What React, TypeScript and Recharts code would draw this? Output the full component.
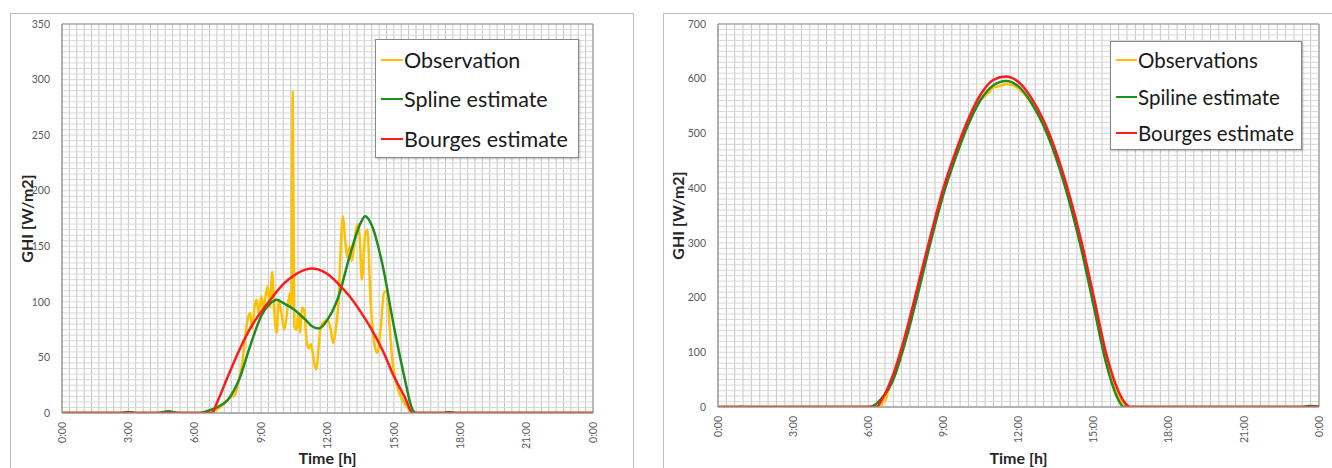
import React from 'react';
import { LineChart, Line, XAxis, YAxis, CartesianGrid, ReferenceArea } from 'recharts';

// time in hours, GHI in W/m2
const leftObservation = [
  [0, 0], [2.8, 0], [3.0, 1], [3.2, 0], [6.6, 0], [6.8, 2], [7.0, 3], [7.3, 8], [7.6, 14], [7.8, 16],
  [8.0, 30], [8.15, 45], [8.3, 72], [8.4, 85], [8.5, 90], [8.6, 76], [8.7, 95], [8.8, 102], [8.9, 88],
  [9.0, 105], [9.1, 95], [9.2, 105], [9.3, 114], [9.4, 95], [9.5, 127], [9.6, 90], [9.7, 72], [9.8, 100],
  [9.9, 92], [10.05, 75], [10.2, 95], [10.3, 108], [10.37, 95], [10.43, 289], [10.5, 78], [10.6, 75],
  [10.68, 90], [10.76, 72], [10.85, 95], [10.95, 92], [11.05, 66], [11.15, 58], [11.25, 62], [11.4, 45],
  [11.5, 39], [11.6, 60], [11.7, 78], [11.85, 82], [12.0, 84], [12.15, 75], [12.26, 63], [12.4, 80],
  [12.5, 100], [12.6, 150], [12.7, 177], [12.8, 155], [12.9, 140], [13.0, 150], [13.1, 137], [13.2, 150],
  [13.35, 170], [13.45, 160], [13.55, 120], [13.7, 160], [13.8, 165], [13.95, 100], [14.1, 65], [14.25, 54],
  [14.4, 75], [14.55, 108], [14.7, 110], [14.8, 80], [14.95, 45], [15.1, 28], [15.3, 15], [15.5, 8],
  [15.7, 3], [15.85, 0], [24, 0],
];
const leftSpline = [
  [0, 0], [2.6, 0], [3.0, 1], [3.4, 0], [4.3, 0], [4.8, 1.5], [5.3, 0], [6.2, 0], [6.6, 2], [7.0, 5],
  [7.5, 12], [8.0, 30], [8.5, 60], [9.0, 87], [9.5, 100], [9.7, 102], [10.0, 99], [10.5, 93], [11.0, 84],
  [11.3, 78], [11.6, 76], [12.0, 84], [12.5, 105], [13.0, 141], [13.5, 171], [13.7, 177], [14.0, 169],
  [14.5, 132], [15.0, 78], [15.5, 30], [15.8, 5], [16.0, 0], [17.2, 0], [17.5, 1], [17.8, 0], [24, 0],
];
const leftBourges = [
  [0, 0], [6.78, 0], [7.0, 9], [7.5, 33], [8.0, 56], [8.5, 76], [9.0, 91], [9.5, 104], [10.0, 116],
  [10.5, 124], [11.0, 129], [11.3, 130], [11.6, 129], [12.0, 125], [12.5, 116], [13.0, 105], [13.5, 91],
  [14.0, 75], [14.5, 56], [15.0, 33], [15.5, 14], [15.85, 0], [24, 0],
];

const rightObservation = [
  [0, 0], [0.8, 0], [0.9, 2], [1.0, 0], [6.5, 0], [6.58, 10], [6.68, 12], [6.8, 30], [7.0, 55], [7.5, 128],
  [8.0, 218], [8.5, 310], [9.0, 395], [9.5, 460], [10.0, 518], [10.5, 562], [10.8, 574], [11.0, 584],
  [11.2, 586], [11.5, 590], [11.8, 588], [12.0, 582], [12.5, 557], [13.0, 516], [13.5, 459],
  [14.0, 386], [14.5, 297], [15.0, 195], [15.5, 90], [16.0, 22], [16.35, 0], [24, 0],
];
const rightSpline = [
  [0, 0], [6.0, 0], [6.3, 5], [6.5, 14], [7.0, 50], [7.5, 122], [8.0, 210], [8.5, 303], [9.0, 388],
  [9.5, 457], [10.0, 517], [10.5, 562], [11.0, 588], [11.5, 596], [12.0, 586], [12.5, 557], [13.0, 514],
  [13.5, 455], [14.0, 380], [14.5, 290], [15.0, 185], [15.5, 80], [16.0, 12], [16.2, 0], [23.3, 0],
  [23.6, 2], [24, 1],
];
const rightBourges = [
  [0, 0], [6.34, 0], [6.5, 10], [7.0, 60], [7.5, 135], [8.0, 225], [8.5, 315], [9.0, 400], [9.5, 468],
  [10.0, 527], [10.5, 572], [11.0, 598], [11.5, 604], [12.0, 594], [12.5, 566], [13.0, 524], [13.5, 466],
  [14.0, 393], [14.5, 305], [15.0, 203], [15.5, 98], [16.0, 28], [16.3, 5], [16.45, 0], [24, 0],
];

const timeTicks = [0, 3, 6, 9, 12, 15, 18, 21, 24];
const timeLabels = ['0:00', '3:00', '6:00', '9:00', '12:00', '15:00', '18:00', '21:00', '0:00'];
const leftGhiTicks = [0, 50, 100, 150, 200, 250, 300, 350];
const rightGhiTicks = [0, 100, 200, 300, 400, 500, 600, 700];

const leftNames = ['Observation', 'Spline estimate', 'Bourges estimate'];
const rightNames = ['Observations', 'Spiline estimate', 'Bourges estimate'];
const colors = ['#FFC000', '#1E8C1E', '#FF1A1A'];

const FONT = "Lato, 'Open Sans', sans-serif";

const toPoints = (pairs: number[][]) => pairs.map(([h, v]) => ({ h, v }));

const steps = (max: number, step: number) => {
  const out: number[] = [];
  for (let i = 0; i * step <= max + 1e-9; i++) out.push(i * step);
  return out;
};

const TimeTick = (props: any) => {
  const { x, y, payload } = props;
  const idx = timeTicks.indexOf(payload.value);
  const ty = y + 1;
  return (
    <text
      x={x}
      y={ty}
      transform={`rotate(-90 ${x} ${ty})`}
      textAnchor="end"
      dy="0.35em"
      fill="#595959"
      fontSize={10.5}
      fontFamily={FONT}
    >
      {timeLabels[idx]}
    </text>
  );
};

type PanelProps = {
  left: number;
  width: number;
  yMax: number;
  yTicks: number[];
  yMinor: number;
  yAxisWidth: number;
  xAxisHeight: number;
  marginRight: number;
  series: number[][][];
  names: string[];
  yLabelOffset: number;
};

const Panel = (p: PanelProps) => {
  const vLines = steps(24, 1 / 3);
  const hLines = steps(p.yMax, p.yMinor);
  return (
    <div style={{ position: 'absolute', left: p.left, top: 13 }}>
      <LineChart
        width={p.width}
        height={455}
        margin={{ top: 11, right: p.marginRight, bottom: 0, left: 0 }}
        style={{ fontFamily: FONT }}
      >
        <CartesianGrid horizontal={false} verticalValues={vLines} stroke="#c6c6c6" strokeWidth={1} />
        <CartesianGrid vertical={false} horizontalValues={hLines} stroke="#d8d8d8" strokeWidth={1} />
        <XAxis
          type="number"
          dataKey="h"
          domain={[0, 24]}
          ticks={timeTicks}
          interval={0}
          allowDataOverflow
          height={p.xAxisHeight}
          axisLine={{ stroke: '#a6a6a6' }}
          tickLine={false}
          tick={<TimeTick />}
          label={{
            value: 'Time [h]',
            position: 'insideBottom',
            offset: 4,
            style: { fontWeight: 700, fontSize: 16, fill: '#262626', fontFamily: FONT },
          }}
        />
        <YAxis
          type="number"
          domain={[0, p.yMax]}
          ticks={p.yTicks}
          interval={0}
          allowDataOverflow
          width={p.yAxisWidth}
          axisLine={{ stroke: '#a6a6a6' }}
          tickLine={false}
          tickMargin={6}
          tick={{ fill: '#595959', fontSize: 10.5, fontFamily: FONT }}
          label={{
            value: 'GHI [W/m2]',
            angle: -90,
            position: 'insideLeft',
            offset: p.yLabelOffset,
            style: { textAnchor: 'middle', fontWeight: 700, fontSize: 16, fill: '#262626', fontFamily: FONT },
          }}
        />
        <ReferenceArea x1={0} x2={24} y1={0} y2={p.yMax} fill="none" stroke="#8f8f8f" strokeWidth={1} />
        {p.series.map((s, i) => (
          <Line
            key={p.names[i]}
            data={toPoints(s)}
            dataKey="v"
            name={p.names[i]}
            type="monotone"
            stroke={colors[i]}
            strokeWidth={2.5}
            dot={false}
            activeDot={false}
            isAnimationActive={false}
          />
        ))}
      </LineChart>
    </div>
  );
};

const LegendBox = ({ left, top, width, height, names, fontSize, rowH, lineW }: any) => (
  <div
    style={{
      position: 'absolute',
      left,
      top,
      width,
      height,
      boxSizing: 'border-box',
      border: '1px solid #8a8a8a',
      boxShadow: '1px 1px 2px rgba(0,0,0,0.25)',
      background: '#fff',
      paddingLeft: 5,
      fontFamily: FONT,
      fontSize,
      color: '#1a1a1a',
    }}
  >
    {names.map((n: string, i: number) => (
      <div key={n} style={{ height: rowH, display: 'flex', alignItems: 'center', whiteSpace: 'nowrap' }}>
        <span style={{ display: 'inline-block', width: lineW, height: 2, background: colors[i], marginRight: 1 }} />
        <span>{n}</span>
      </div>
    ))}
  </div>
);

export default function App() {
  return (
    <div
      style={{
        position: 'absolute',
        left: 0,
        top: 0,
        width: 1332,
        height: 468,
        background: '#fff',
        overflow: 'hidden',
        fontFamily: FONT,
      }}
    >
      <div style={{ position: 'absolute', left: 10, top: 13, width: 624, height: 470, boxSizing: 'border-box', border: '1px solid #bdbdbd' }} />
      <div style={{ position: 'absolute', left: 663, top: 13, width: 700, height: 470, boxSizing: 'border-box', border: '1px solid #bdbdbd' }} />
      <Panel
        left={10}
        width={624}
        yMax={350}
        yTicks={leftGhiTicks}
        yMinor={5}
        yAxisWidth={52}
        xAxisHeight={55}
        marginRight={41}
        series={[leftObservation, leftSpline, leftBourges]}
        names={leftNames}
        yLabelOffset={17}
      />
      <Panel
        left={663}
        width={669}
        yMax={700}
        yTicks={rightGhiTicks}
        yMinor={10}
        yAxisWidth={55}
        xAxisHeight={61}
        marginRight={13}
        series={[rightObservation, rightSpline, rightBourges]}
        names={rightNames}
        yLabelOffset={15}
      />
      <LegendBox left={375} top={39} width={204} height={119} names={leftNames} fontSize={21.5} rowH={39.5} lineW={22} />
      <LegendBox left={1110} top={41} width={192} height={109} names={rightNames} fontSize={20.5} rowH={36.5} lineW={21} />
    </div>
  );
}
